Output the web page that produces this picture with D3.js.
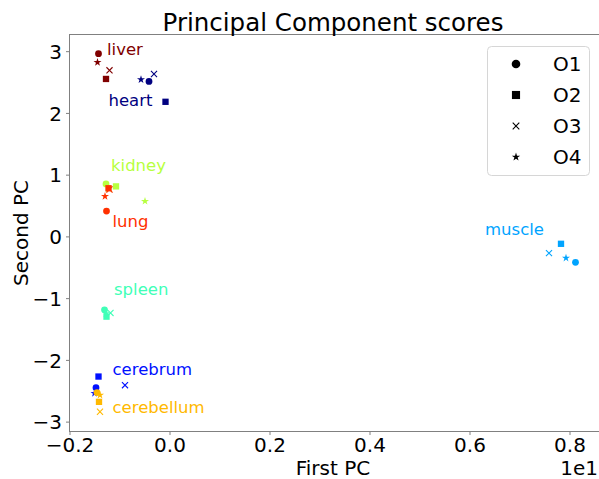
<!DOCTYPE html>
<html><head><meta charset="utf-8">
<script src="https://cdn.jsdelivr.net/npm/d3@7"></script>
<style>
html,body{margin:0;padding:0;background:#fff;overflow:hidden}
text{font-family:"DejaVu Sans",sans-serif}
</style></head>
<body><svg id="chart" width="599" height="479"></svg>
<script>
// ---- data (x in units of the 1e1 offset: shown value = x/10) ----
const tissues = ["liver","heart","kidney","lung","spleen","muscle","cerebrum","cerebellum"];
const tissueColors = ["rgb(128,0,0)","rgb(0,0,128)","rgb(183,255,64)","rgb(255,48,0)","rgb(64,255,183)","rgb(0,164,255)","rgb(0,16,255)","rgb(255,185,0)"];
const samples = ["O1","O2","O3","O4"];
// first PC scores per tissue, order O1..O4
const pc1 = [
  [-1.42,-1.27,-1.20,-1.44],
  [-0.41,-0.08,-0.31,-0.57],
  [-1.27,-1.07,-1.21,-0.49],
  [-1.26,-1.22,-1.20,-1.29],
  [-1.30,-1.26,-1.18,-1.27],
  [ 8.12, 7.83, 7.59, 7.93],
  [-1.47,-1.42,-0.89,-1.50],
  [-1.45,-1.41,-1.39,-1.39]
];
// second PC scores per tissue, order O1..O4
const pc2 = [
  [ 2.96, 2.55, 2.69, 2.82],
  [ 2.51, 2.18, 2.63, 2.54],
  [ 0.85, 0.81, 0.77, 0.57],
  [ 0.41, 0.78, 0.76, 0.65],
  [-1.19,-1.30,-1.24,-1.25],
  [-0.42,-0.12,-0.27,-0.35],
  [-2.45,-2.27,-2.41,-2.54],
  [-2.53,-2.68,-2.84,-2.57]
];
// tissue label anchor positions (data coords)
const labelX = [-1.25,-1.22,-1.17,-1.14,-1.11,6.31,-1.14,-1.14];
const labelY = [ 2.93, 2.12, 1.06, 0.15,-0.95,0.02,-2.24,-2.86];
const xTicks = [-2,0,2,4,6,8];
const yTicks = [-3,-2,-1,0,1,2,3];
const titleText = "Principal Component scores";
const xLabel = "First PC", yLabel = "Second PC", xOffsetText = "1e1";

// ---- drawing ----
const svg = d3.select("#chart");
const L = 69.5, R = 600.5, T = 34.5, B = 431.5;
const x = d3.scaleLinear().domain([-2, 8.62]).range([L, R]);
const y = d3.scaleLinear().domain([-3.16, 3.27]).range([B, T]);
const fmtMinus = s => s.replace("-", "\u2212");

const symbolFor = {
  O1: {type: d3.symbolCircle, size: 36, stroke: false},
  O2: {type: d3.symbolSquare, size: 40, stroke: false},
  O3: {type: d3.symbolTimes, size: 26, stroke: true},
  O4: {type: d3.symbolStar, size: 20, stroke: false}
};
const legendSym = {
  O1: {type: d3.symbolCircle, size: 58, stroke: false},
  O2: {type: d3.symbolSquare, size: 66, stroke: false},
  O3: {type: d3.symbolTimes, size: 30, stroke: true},
  O4: {type: d3.symbolStar, size: 22, stroke: false}
};

function drawSym(g, spec, color, cx, cy) {
  const p = g.append("path")
    .attr("d", d3.symbol().type(spec.type).size(spec.size)())
    .attr("transform", `translate(${cx},${cy})`);
  if (spec.stroke) p.attr("fill", "none").attr("stroke", color).attr("stroke-width", 1.1);
  else p.attr("fill", color).attr("stroke", "none");
}

// axes
const gx = svg.append("g").attr("transform", `translate(0,${B})`)
  .call(d3.axisBottom(x).tickValues(xTicks).tickSize(3.5).tickPadding(3)
    .tickFormat(d => fmtMinus((d/10).toFixed(1))));
const gy = svg.append("g").attr("transform", `translate(${L},0)`)
  .call(d3.axisLeft(y).tickValues(yTicks).tickSize(3.5).tickPadding(4)
    .tickFormat(d => fmtMinus(String(d))));
[gx, gy].forEach(g => {
  g.select(".domain").remove();
  g.selectAll(".tick line").attr("stroke", "#808080");
  g.selectAll(".tick text").attr("fill", "#000").style("font-size", "20px")
    .style("font-family", "DejaVu Sans");
});
gy.selectAll(".tick text").attr("dy", "0.36em");

// spines
svg.append("rect").attr("x", L).attr("y", T).attr("width", R - L).attr("height", B - T)
  .attr("fill", "none").attr("stroke", "#808080").attr("stroke-width", 1);

// points
const gp = svg.append("g");
tissues.forEach((t, i) => {
  samples.forEach((s, j) => {
    drawSym(gp, symbolFor[s], tissueColors[i], x(pc1[i][j]), y(pc2[i][j]));
  });
});

// tissue labels
svg.append("g").selectAll("text").data(tissues).join("text")
  .attr("x", (d, i) => x(labelX[i])).attr("y", (d, i) => y(labelY[i]))
  .attr("fill", (d, i) => tissueColors[i])
  .style("font-size", "16.5px").text(d => d);

// title & labels
svg.append("text").attr("x", (L + R) / 2 - 2).attr("y", 31).attr("text-anchor", "middle")
  .style("font-size", "24.5px").text(titleText);
svg.append("text").attr("x", (L + R) / 2 - 2).attr("y", 475).attr("text-anchor", "middle")
  .style("font-size", "20px").text(xLabel);
svg.append("text").attr("transform", `translate(28,${(T + B) / 2}) rotate(-90)`)
  .attr("text-anchor", "middle").style("font-size", "20px").text(yLabel);
svg.append("text").attr("x", 598).attr("y", 475).attr("text-anchor", "end")
  .style("font-size", "20px").text(xOffsetText);

// legend
const lg = svg.append("g");
lg.append("rect").attr("x", 487.5).attr("y", 46.5).attr("width", 102).attr("height", 129)
  .attr("rx", 4).attr("fill", "#fff").attr("fill-opacity", 0.8)
  .attr("stroke", "#d6d6d6").attr("stroke-width", 1);
samples.forEach((s, j) => {
  const cy = 64 + j * 31;
  drawSym(lg, legendSym[s], "#000", 516, cy);
  lg.append("text").attr("x", 553).attr("y", cy).attr("dy", "0.36em")
    .style("font-size", "20px").text(s);
});
</script></body></html>
